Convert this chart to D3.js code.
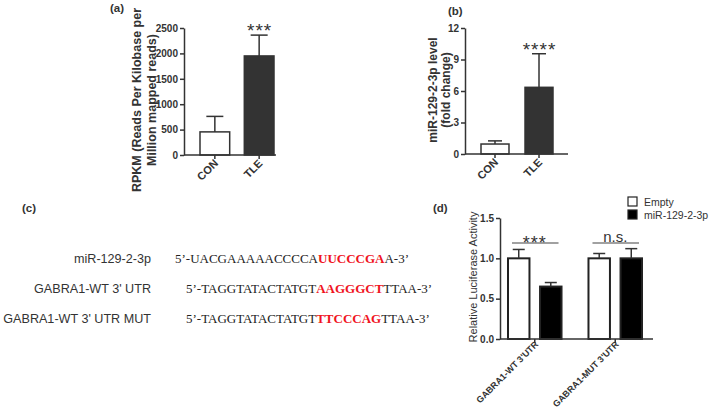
<!DOCTYPE html>
<html>
<head>
<meta charset="utf-8">
<title>GABRA1 / miR-129-2-3p figure</title>
<style>
  body { margin: 0; background: #fff; }
  svg { display: block; }
  text { font-family: Arial, "Liberation Sans", sans-serif; fill: #333; }
  .seq { font-family: "Times New Roman", "Liberation Serif", serif; fill: #222; }
  .axis path, .axis line { stroke: #333; stroke-width: 1.5; }
  .axis text { font-size: 10px; font-weight: bold; fill: #333; }
</style>
</head>
<body>
<svg id="fig" width="709" height="414"></svg>
<script src="https://cdn.jsdelivr.net/npm/d3@7"></script>
<script>
// (a) RPKM
var groupsA = ["CON", "TLE"];
var rpkm = [455, 1950];
var rpkmSd = [305, 410];
var ticksA = [0, 500, 1000, 1500, 2000, 2500];

// (b) qPCR fold change
var groupsB = ["CON", "TLE"];
var foldChange = [0.95, 6.35];
var foldSd = [0.3, 3.2];
var ticksB = [0, 3, 6, 9, 12];

// (c) sequences
var seqNames = ["miR-129-2-3p", "GABRA1-WT 3' UTR", "GABRA1-WT 3' UTR MUT"];
var seqHead = ["5’-UACGAAAAACCCCA", "5’-TAGGTATACTATGT", "5’-TAGGTATACTATGT"];
var seqSeed = ["UUCCCGA", "AAGGGCT", "TTCCCAG"];
var seqTail = ["A-3’", "TTAA-3’", "TTAA-3’"];

// (d) luciferase
var constructs = ["GABRA1-WT 3'UTR", "GABRA1-MUT 3'UTR"];
var vectors = ["Empty", "miR-129-2-3p"];
var lucEmpty = [1.0, 1.0];
var lucMir = [0.65, 1.0];
var lucEmptyErr = [0.11, 0.06];
var lucMirErr = [0.05, 0.12];
var ticksD = [0, 0.5, 1.0, 1.5];
var sigD = ["***", "n.s."];

var svg = d3.select("#fig");
svg.append("rect").attr("width", 709).attr("height", 414).attr("fill", "#fff");

function panelLetter(txt, x, y) {
    svg.append("text").attr("x", x).attr("y", y)
        .attr("font-size", 11.5).attr("font-weight", "bold").attr("fill", "#222")
        .text(txt);
}

// two-bar panel used for (a) and (b)
function barPanel(o) {
    var g = svg.append("g");
    var x = d3.scaleBand().domain(o.groups).range(o.xr).paddingInner(o.pad);
    var y = d3.scaleLinear().domain([0, o.max]).range(o.yr);

    g.selectAll("rect.bar").data(o.groups).join("rect")
        .attr("class", "bar")
        .attr("x", function(d) { return x(d); })
        .attr("y", function(d, i) { return y(o.values[i]); })
        .attr("width", x.bandwidth())
        .attr("height", function(d, i) { return y(0) - y(o.values[i]); })
        .attr("fill", function(d, i) { return i ? "#333" : "#fff"; })
        .attr("stroke", "#333").attr("stroke-width", 1.5);

    // upper whiskers only
    var eb = g.selectAll("g.err").data(o.groups).join("g").attr("class", "err");
    eb.append("line")
        .attr("x1", function(d) { return x(d) + x.bandwidth() / 2; })
        .attr("x2", function(d) { return x(d) + x.bandwidth() / 2; })
        .attr("y1", function(d, i) { return y(o.values[i]); })
        .attr("y2", function(d, i) { return y(o.values[i] + o.errs[i]); })
        .attr("stroke", "#333").attr("stroke-width", 1.5);
    eb.append("line")
        .attr("x1", function(d) { return x(d) + x.bandwidth() / 2 - o.cap / 2; })
        .attr("x2", function(d) { return x(d) + x.bandwidth() / 2 + o.cap / 2; })
        .attr("y1", function(d, i) { return y(o.values[i] + o.errs[i]); })
        .attr("y2", function(d, i) { return y(o.values[i] + o.errs[i]); })
        .attr("stroke", "#333").attr("stroke-width", 1.5);

    g.append("g").attr("class", "axis")
        .attr("transform", "translate(" + o.axisX + ",0)")
        .call(d3.axisLeft(y).tickValues(o.ticks).tickFormat(d3.format("d"))
            .tickSize(4).tickSizeOuter(0).tickPadding(2));

    g.append("line")
        .attr("x1", o.axisX).attr("x2", o.xEnd)
        .attr("y1", y(0)).attr("y2", y(0))
        .attr("stroke", "#333").attr("stroke-width", 1.5);
    g.selectAll("line.xt").data(o.groups).join("line")
        .attr("class", "xt")
        .attr("x1", function(d) { return x(d) + x.bandwidth() / 2; })
        .attr("x2", function(d) { return x(d) + x.bandwidth() / 2; })
        .attr("y1", y(0)).attr("y2", y(0) + 4)
        .attr("stroke", "#333").attr("stroke-width", 1.5);
    g.selectAll("text.xl").data(o.groups).join("text")
        .attr("class", "xl")
        .attr("transform", function(d) {
            return "translate(" + (x(d) + x.bandwidth() / 2 + 4) + "," + (y(0) + 9) + ") rotate(-45)";
        })
        .attr("text-anchor", "end")
        .attr("font-size", 11).attr("font-weight", "bold")
        .text(function(d) { return d; });

    // significance stars over the TLE bar
    var last = o.groups.length - 1;
    g.append("text")
        .attr("x", x(o.groups[last]) + x.bandwidth() / 2 + 0.5)
        .attr("y", y(o.values[last] + o.errs[last]) + 2)
        .attr("text-anchor", "middle")
        .attr("font-size", 19).attr("letter-spacing", 1)
        .text(o.sig);

    // y title
    var t = g.append("text")
        .attr("transform", "translate(" + o.titleX + "," + o.titleY + ") rotate(-90)")
        .attr("text-anchor", "middle")
        .attr("font-size", o.titleSize).attr("font-weight", "bold");
    o.title.forEach(function(line, i) {
        t.append("tspan").attr("x", 0).attr("dy", i ? o.titleGap : 0).text(line);
    });
}

barPanel({
    groups: groupsA, values: rpkm, errs: rpkmSd, ticks: ticksA, max: 2500,
    xr: [200, 274], pad: 0.33, yr: [155, 28], axisX: 184, xEnd: 276, cap: 17,
    sig: "***", title: ["RPKM (Reads Per Kilobase per", "Million mapped reads)"],
    titleX: 141, titleY: 100, titleGap: 15, titleSize: 12.5
});
panelLetter("(a)", 110, 12);

barPanel({
    groups: groupsB, values: foldChange, errs: foldSd, ticks: ticksB, max: 12,
    xr: [481, 553], pad: 0.364, yr: [154, 28], axisX: 465, xEnd: 568, cap: 14,
    sig: "****", title: ["miR-129-2-3p level", "(fold change)"],
    titleX: 437, titleY: 90, titleGap: 13, titleSize: 12
});
panelLetter("(b)", 448, 15);

// (c) sequence alignment
panelLetter("(c)", 22, 212);
var rowY = d3.scalePoint().domain(seqNames).range([263, 323]);
svg.selectAll("text.seqname").data(seqNames).join("text")
    .attr("class", "seqname")
    .attr("x", 151).attr("y", function(d) { return rowY(d); })
    .attr("text-anchor", "end").attr("font-size", 12.6).attr("fill", "#1a1a1a")
    .text(function(d) { return d; });
var seqStart = [175, 186, 186];
seqNames.forEach(function(nm, i) {
    var t = svg.append("text").attr("class", "seq")
        .attr("x", seqStart[i]).attr("y", rowY(nm)).attr("font-size", 13);
    t.append("tspan").text(seqHead[i]);
    t.append("tspan").attr("fill", "#f0141e").attr("font-weight", "bold").text(seqSeed[i]);
    t.append("tspan").text(seqTail[i]);
});

// (d) luciferase grouped bars
panelLetter("(d)", 433, 212);
var gd = svg.append("g");
var yD = d3.scaleLinear().domain([0, 1.5]).range([339, 218]);
var x0 = d3.scaleBand().domain(constructs).range([508, 642]).paddingInner(0.335);
var x1 = d3.scaleBand().domain(vectors).range([0, x0.bandwidth()]).paddingInner(0.33);
var lucRows = [];
constructs.forEach(function(c, i) {
    lucRows.push({ c: c, v: vectors[0], val: lucEmpty[i], err: lucEmptyErr[i] });
    lucRows.push({ c: c, v: vectors[1], val: lucMir[i], err: lucMirErr[i] });
});
var fillD = d3.scaleOrdinal().domain(vectors).range(["#fff", "#000"]);

gd.selectAll("rect.lb").data(lucRows).join("rect")
    .attr("class", "lb")
    .attr("x", function(d) { return x0(d.c) + x1(d.v); })
    .attr("y", function(d) { return yD(d.val); })
    .attr("width", x1.bandwidth())
    .attr("height", function(d) { return yD(0) - yD(d.val); })
    .attr("fill", function(d) { return fillD(d.v); })
    .attr("stroke", "#222").attr("stroke-width", 2);
var ebd = gd.selectAll("g.le").data(lucRows).join("g").attr("class", "le");
ebd.append("line")
    .attr("x1", function(d) { return x0(d.c) + x1(d.v) + x1.bandwidth() / 2; })
    .attr("x2", function(d) { return x0(d.c) + x1(d.v) + x1.bandwidth() / 2; })
    .attr("y1", function(d) { return yD(d.val); })
    .attr("y2", function(d) { return yD(d.val + d.err); })
    .attr("stroke", "#333").attr("stroke-width", 1.5);
ebd.append("line")
    .attr("x1", function(d) { return x0(d.c) + x1(d.v) + x1.bandwidth() / 2 - 6; })
    .attr("x2", function(d) { return x0(d.c) + x1(d.v) + x1.bandwidth() / 2 + 6; })
    .attr("y1", function(d) { return yD(d.val + d.err); })
    .attr("y2", function(d) { return yD(d.val + d.err); })
    .attr("stroke", "#333").attr("stroke-width", 1.5);

gd.append("g").attr("class", "axis")
    .attr("transform", "translate(500,0)")
    .call(d3.axisLeft(yD).tickValues(ticksD).tickFormat(d3.format(".1f"))
        .tickSize(4).tickSizeOuter(0).tickPadding(2));
gd.append("line").attr("x1", 500).attr("x2", 653).attr("y1", yD(0)).attr("y2", yD(0))
    .attr("stroke", "#333").attr("stroke-width", 1.5);
gd.selectAll("line.xt").data(constructs).join("line")
    .attr("class", "xt")
    .attr("x1", function(d) { return x0(d) + x0.bandwidth() / 2; })
    .attr("x2", function(d) { return x0(d) + x0.bandwidth() / 2; })
    .attr("y1", yD(0)).attr("y2", yD(0) + 4)
    .attr("stroke", "#333").attr("stroke-width", 1.5);
gd.selectAll("text.xl").data(constructs).join("text")
    .attr("class", "xl")
    .attr("transform", function(d) {
        return "translate(" + (x0(d) + x0.bandwidth() / 2 + 4) + "," + (yD(0) + 6) + ") rotate(-45)";
    })
    .attr("text-anchor", "end").attr("font-size", 9).attr("font-weight", "bold")
    .text(function(d) { return d; });

// significance brackets
gd.selectAll("line.sig").data(constructs).join("line")
    .attr("class", "sig")
    .attr("x1", function(d) { return x0(d) + 4; })
    .attr("x2", function(d) { return x0(d) + x0.bandwidth() - 3; })
    .attr("y1", 243).attr("y2", 243)
    .attr("stroke", "#444").attr("stroke-width", 1.2);
gd.selectAll("text.sig").data(constructs).join("text")
    .attr("class", "sig")
    .attr("x", function(d) { return x0(d) + x0.bandwidth() / 2; })
    .attr("y", function(d, i) { return i ? 241.5 : 249; })
    .attr("text-anchor", "middle")
    .attr("font-size", function(d, i) { return i ? 15 : 18; })
    .attr("letter-spacing", function(d, i) { return i ? 0 : 1; })
    .text(function(d, i) { return sigD[i]; });

gd.append("text")
    .attr("transform", "translate(477,277) rotate(-90)")
    .attr("text-anchor", "middle").attr("font-size", 11)
    .text("Relative Luciferase Activity");

// legend
var lg = gd.selectAll("g.lg").data(vectors).join("g")
    .attr("class", "lg")
    .attr("transform", function(d, i) { return "translate(628," + (197 + i * 13) + ")"; });
lg.append("rect").attr("width", 9).attr("height", 9)
    .attr("fill", function(d) { return fillD(d); })
    .attr("stroke", "#222").attr("stroke-width", 1.2);
lg.append("text").attr("x", 16).attr("y", 8.5).attr("font-size", 10.5)
    .text(function(d) { return d; });
</script>
</body>
</html>
